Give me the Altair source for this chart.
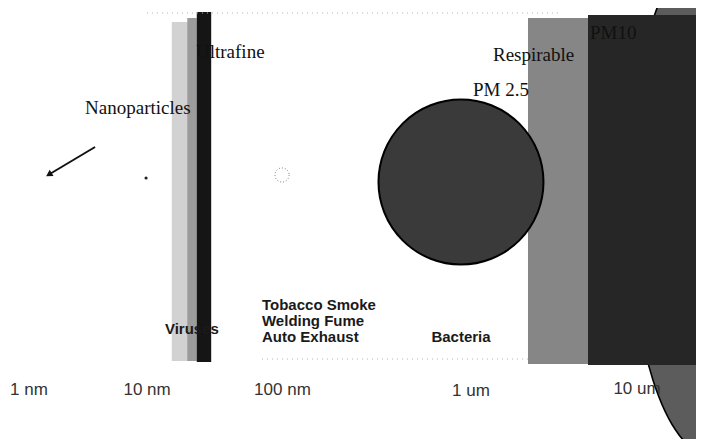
import altair as alt
import pandas as pd

# ---------------- data ----------------
# horizontal position: particle size in nanometres (log scale); vertical: figure units (0 = top)
axis_labels = ["1 nm", "10 nm", "100 nm", "1 um", "10 um"]
axis_label_nm = [1, 5.98, 46.5, 809, 10000]
axis_label_y = [390, 390, 390, 391, 389]

serif_labels = ["Nanoparticles", "Ultrafine", "Respirable", "PM 2.5", "PM10"]
serif_label_nm = [2.34, 12.55, 1129, 834, 4907]
serif_label_y = [108, 52, 55, 90, 33]

source_left_labels = ["Tobacco Smoke", "Welding Fume", "Auto Exhaust"]
source_left_nm = [34.1, 34.1, 34.1]
source_left_y = [305, 321, 337]

source_center_labels = ["Viruses", "Bacteria"]
source_center_nm = [11.8, 695]
source_center_y = [329, 337]

band_names = ["ultrafine halo", "ultrafine edge", "ultrafine core", "respirable", "PM10"]
band_from_nm = [8.7, 11.0, 12.7, 1918, 4760]
band_to_nm = [12.7, 12.7, 15.8, 4760, 30000]
band_top = [22, 18, 12, 18, 15]
band_bottom = [361, 361, 362, 364, 365]

pm25_nm = [695]
pm25_y = [182]

pm10_oval_nm = [30680]
pm10_oval_y = [200]

arrow_from_nm = [2.72]
arrow_from_y = [147]
arrow_to_nm = [1.37]
arrow_to_y = [174]

small_ring_nm = [46.2]
small_ring_y = [175]
dot_nm = [5.89]
dot_y = [178]

frame_from_nm = [5.97, 34.1]
frame_to_nm = [3115, 1918]
frame_y = [13, 359]

# ---------------- styles ----------------
band_colors = ["#d2d2d2", "#9c9c9c", "#151515", "#868686", "#262626"]

xs = alt.Scale(type="log", domain=[1, 10000], range=[21, 629])
ys = alt.Scale(domain=[0, 447], range=[-8, 439])

# ellipse outline as a custom symbol path (cubic approximation)
a, k = 0.3216, 0.5523
ak = a * k
oval_path = (
    f"M {-a} 0 C {-a} {-k} {-ak} -1 0 -1 C {ak} -1 {a} {-k} {a} 0 "
    f"C {a} {k} {ak} 1 0 1 C {-ak} 1 {-a} {k} {-a} 0 Z"
)

def X(f):
    return alt.X(f, type="quantitative", scale=xs, axis=None)

def Y(f):
    return alt.Y(f, type="quantitative", scale=ys, axis=None)

oval = alt.Chart(pd.DataFrame({"nm": pm10_oval_nm, "y": pm10_oval_y})).mark_point(
    shape=oval_path, size=260100, filled=True, color="#5c5c5c",
    stroke="#000000", strokeWidth=1.6, opacity=1
).encode(x=X("nm"), y=Y("y"))

bands = alt.Chart(pd.DataFrame({
    "band": band_names, "from": band_from_nm, "to": band_to_nm,
    "top": band_top, "bottom": band_bottom,
})).mark_rect().encode(
    x=X("from"), x2="to", y=Y("top"), y2="bottom",
    color=alt.Color("band:N", scale=alt.Scale(domain=band_names, range=band_colors), legend=None),
)

frame = alt.Chart(pd.DataFrame({"from": frame_from_nm, "to": frame_to_nm, "y": frame_y})).mark_rule(
    color="#b0b0b0", strokeDash=[1, 4], strokeWidth=1
).encode(x=X("from"), x2="to", y=Y("y"))

circle = alt.Chart(pd.DataFrame({"nm": pm25_nm, "y": pm25_y})).mark_point(
    shape="circle", size=27225, filled=True, color="#3a3a3a",
    stroke="#000000", strokeWidth=2, opacity=1
).encode(x=X("nm"), y=Y("y"))

arrow = alt.Chart(pd.DataFrame({
    "from": arrow_from_nm, "to": arrow_to_nm, "y1": arrow_from_y, "y2": arrow_to_y
})).mark_rule(color="#111111", strokeWidth=2).encode(
    x=X("from"), x2="to", y=Y("y1"), y2="y2"
)
arrow_head = alt.Chart(pd.DataFrame({"nm": arrow_to_nm, "y": arrow_to_y})).mark_point(
    shape="triangle", size=55, angle=239, filled=True, color="#111111", opacity=1
).encode(x=X("nm"), y=Y("y"))

ring = alt.Chart(pd.DataFrame({"nm": small_ring_nm, "y": small_ring_y})).mark_point(
    shape="circle", size=200, filled=False, color="#777777", strokeWidth=1,
    strokeDash=[1, 2], opacity=1
).encode(x=X("nm"), y=Y("y"))
dot = alt.Chart(pd.DataFrame({"nm": dot_nm, "y": dot_y})).mark_point(
    shape="circle", size=10, filled=True, color="#222222", opacity=1
).encode(x=X("nm"), y=Y("y"))

serif_text = alt.Chart(pd.DataFrame({"t": serif_labels, "nm": serif_label_nm, "y": serif_label_y})).mark_text(
    font="Liberation Serif", fontSize=19, align="left", baseline="middle", color="#111111"
).encode(x=X("nm"), y=Y("y"), text="t:N")

src_left = alt.Chart(pd.DataFrame({"t": source_left_labels, "nm": source_left_nm, "y": source_left_y})).mark_text(
    font="Liberation Sans", fontSize=15, fontWeight="bold", align="left", baseline="middle", color="#1a1a1a"
).encode(x=X("nm"), y=Y("y"), text="t:N")

src_center = alt.Chart(pd.DataFrame({"t": source_center_labels, "nm": source_center_nm, "y": source_center_y})).mark_text(
    font="Liberation Sans", fontSize=15, fontWeight="bold", align="center", baseline="middle", color="#1a1a1a"
).encode(x=X("nm"), y=Y("y"), text="t:N")

axis_text = alt.Chart(pd.DataFrame({"t": axis_labels, "nm": axis_label_nm, "y": axis_label_y})).mark_text(
    font="Liberation Sans", fontSize=17, align="center", baseline="middle", color="#333333"
).encode(x=X("nm"), y=Y("y"), text="t:N")

chart = alt.layer(
    oval, bands, frame, circle, arrow, arrow_head, ring, dot,
    serif_text, src_left, src_center, axis_text
).properties(
    width=688, height=431, padding=0,
    autosize=alt.AutoSizeParams(type="none"),
    background="white",
).configure_view(stroke=None)

chart.save("out.html", embed_options={"renderer": "svg", "actions": False})
